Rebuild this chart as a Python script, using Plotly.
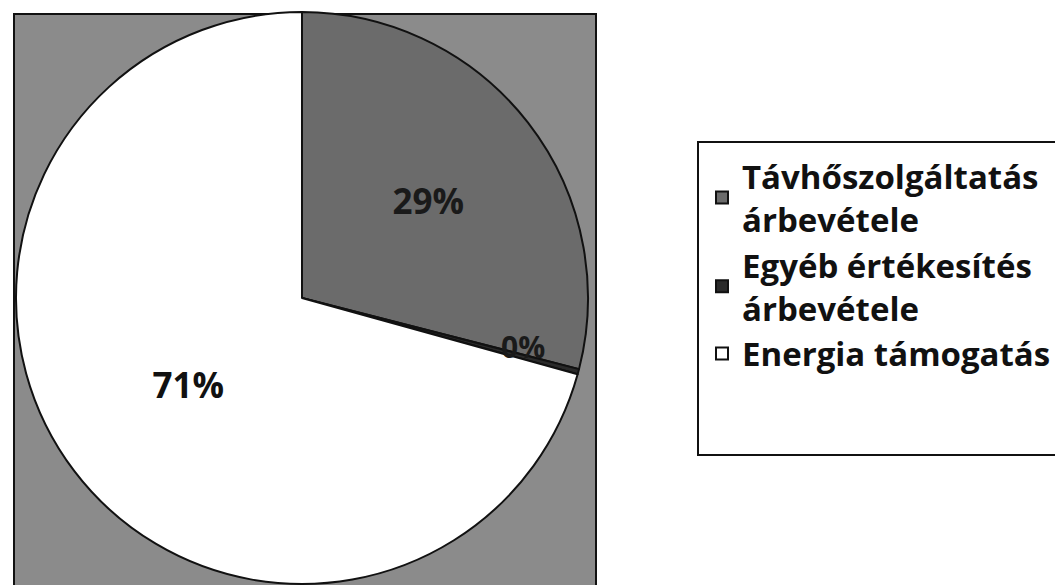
import math
import plotly.graph_objects as go

labels = ["Távhőszolgáltatás<br>árbevétele", "Egyéb értékesítés<br>árbevétele", "Energia támogatás"]
values = [29.0, 0.3, 70.7]
colors = ["#6b6b6b", "#2a2a2a", "#ffffff"]
text_colors = ["#1a1a1a", "#1a1a1a", "#111111"]

W, H = 1063, 585
OFF = 8  # page body margin
cx, cy, r = 302 - OFF, 298 - OFF, 286

fig = go.Figure()
text_positions = ["inside", "none", "inside"]
fig.add_trace(go.Pie(
    labels=labels,
    values=values,
    sort=False,
    direction="clockwise",
    rotation=0,
    marker=dict(colors=colors, line=dict(color="#111111", width=2)),
    texttemplate="%{percent:.0%}",
    textposition=text_positions,
    insidetextorientation="horizontal",
    textfont=dict(family="Open Sans", size=35, color=text_colors, weight="bold"),
    domain=dict(x=[(cx - r) / W, (cx + r) / W], y=[(H - cy - r) / H, (H - cy + r) / H]),
    showlegend=True,
    hoverinfo="label+percent",
))

# label of the tiny slice, placed just inside the first slice near its boundary
total = sum(values)
ang = math.radians(360 * values[0] / total - 2.0)
rr = 0.79 * r
lx = cx + rr * math.sin(ang)
ly = cy - rr * math.cos(ang)
pct = values[1] / total

fig.update_layout(
    width=W, height=H,
    margin=dict(l=0, r=0, t=0, b=0),
    paper_bgcolor="white",
    uniformtext=dict(minsize=35, mode="show"),
    shapes=[
        dict(type="rect", xref="paper", yref="paper", layer="below",
             x0=(14 - OFF) / W, x1=(596 - OFF) / W, y0=-0.05, y1=1 - (14 - OFF) / H,
             fillcolor="#8b8b8b", line=dict(color="#111111", width=2)),
        dict(type="rect", xref="paper", yref="paper", layer="above",
             x0=(698 - OFF) / W, x1=1.05, y0=1 - (455 - OFF) / H, y1=1 - (142 - OFF) / H,
             fillcolor="rgba(0,0,0,0)", line=dict(color="#111111", width=2)),
    ],
    annotations=[
        dict(x=lx / W, y=1 - ly / H, xref="paper", yref="paper", showarrow=False,
             text=f"<b>{pct:.0%}</b>", font=dict(family="Open Sans", size=30, color="#1a1a1a")),
    ],
    legend=dict(
        x=694 / W, y=1 - 140 / H, xanchor="left", yanchor="top",
        bgcolor="rgba(0,0,0,0)", borderwidth=0,
        font=dict(family="Open Sans", size=33, color="#111111", weight="bold"),
        itemwidth=30,
    ),
)

fig.write_html("out.html")
